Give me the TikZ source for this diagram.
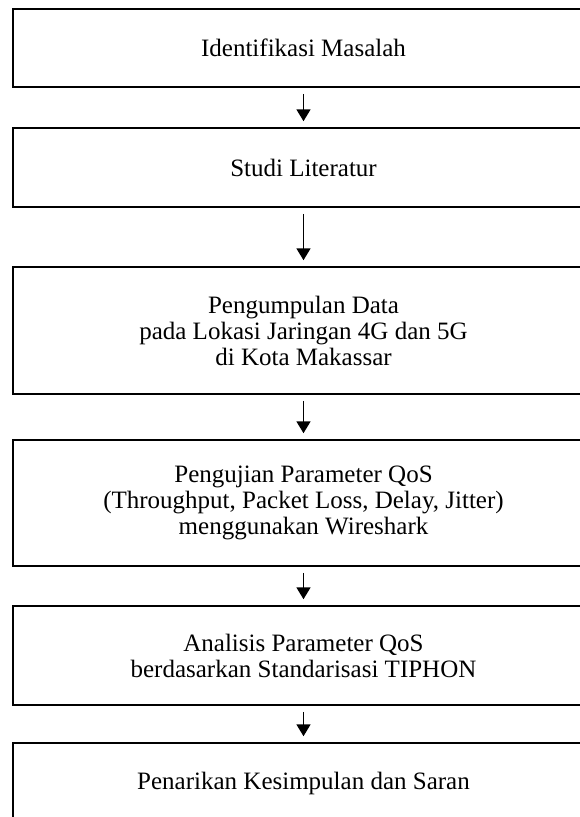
\documentclass[tikz,border=0pt]{standalone}
\usepackage{fontspec}
\setmainfont{Liberation Serif}
\usetikzlibrary{arrows.meta}

\tikzset{
  stepbox/.style={draw, line width=1.5pt, minimum width=581pt, inner sep=0pt,
    align=center, font=\fontsize{25}{26}\selectfont},
  flow/.style={-{Triangle[width=14pt,length=12pt]}, line width=1.8pt,
    shorten <=6pt, shorten >=6pt}
}

\begin{document}
\begin{tikzpicture}
        \useasboundingbox (0,0) rectangle (580pt,-817pt);
        \clip (0,0) rectangle (580pt,-817pt);
        \node[stepbox, minimum height=78pt] (identifikasi) at (303.5pt,-48pt) {Identifikasi Masalah};
        \node[stepbox, minimum height=79pt] (studi) at (303.5pt,-167.5pt) {Studi Literatur};
        \node[stepbox, minimum height=127pt] (pengumpulan) at (303.5pt,-330.5pt)
          {Pengumpulan Data\\pada Lokasi Jaringan 4G dan 5G\\di Kota Makassar};
        \node[stepbox, minimum height=126pt] (pengujian) at (303.5pt,-503pt)
          {Pengujian Parameter QoS\\(Throughput, Packet Loss, Delay, Jitter)\\menggunakan Wireshark};
        \node[stepbox, minimum height=99pt] (analisis) at (303.5pt,-655.5pt)
          {Analisis Parameter QoS\\berdasarkan Standarisasi TIPHON};
        \node[stepbox, minimum height=80pt] (penarikan) at (303.5pt,-783pt) {Penarikan Kesimpulan dan Saran};
        \draw[flow] (identifikasi) -- (studi);
        \draw[flow] (studi) -- (pengumpulan);
        \draw[flow] (pengumpulan) -- (pengujian);
        \draw[flow] (pengujian) -- (analisis);
        \draw[flow] (analisis) -- (penarikan);
      \end{tikzpicture}
\end{document}
